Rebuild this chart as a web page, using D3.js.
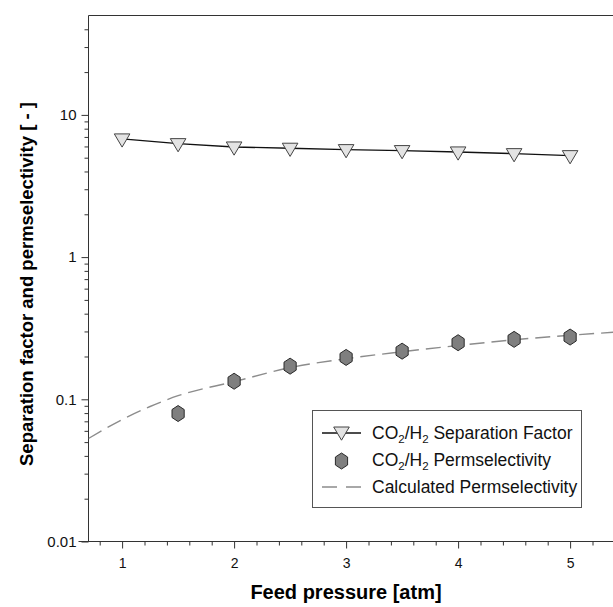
<!DOCTYPE html>
<html>
<head>
<meta charset="utf-8">
<script src="https://cdnjs.cloudflare.com/ajax/libs/d3/7.8.5/d3.min.js"></script>
<style>
  body { margin: 0; background: #fff; }
  svg { font-family: Arial, "Liberation Sans", sans-serif; display: block; }
</style>
</head>
<body>
<script>
// feed pressure [atm]
const pressure = [1, 1.5, 2, 2.5, 3, 3.5, 4, 4.5, 5];
const sepFactor = [6.78, 6.28, 5.95, 5.83, 5.70, 5.61, 5.49, 5.34, 5.17];

const permPressure = [1.5, 2, 2.5, 3, 3.5, 4, 4.5, 5];
const permSel = [0.0794, 0.134, 0.171, 0.197, 0.218, 0.250, 0.264, 0.274];

// calculated permselectivity curve
const calcPressure = [0.7, 1.0, 1.25, 1.5, 2.0, 2.5, 3.0, 3.5, 4.0, 4.5, 5.0, 5.5];
const calcPerm = [0.053, 0.072, 0.089, 0.106, 0.133, 0.167, 0.193, 0.216, 0.239, 0.262, 0.282, 0.300];

const xTicks = [1, 2, 3, 4, 5];
const yTicks = [0.01, 0.1, 1, 10];

const W = 613, H = 607;
const svg = d3.select("body").append("svg")
    .attr("width", W)
    .attr("height", H);

const plotLeft = 88.5, plotBottom = 541.5, plotTop = 15.5;
const font = "Arial, 'Liberation Sans', sans-serif";

var x = d3.scaleLinear().domain([0.7, 5.5]).range([plotLeft, plotLeft + 4.8 * 112]);
var y = d3.scaleLog().domain([0.01, 50]).range([plotBottom, plotTop]);

// minor ticks
var yMinor = [];
[0.01, 0.1, 1, 10].forEach(function (d) {
    for (var k = 2; k <= 9; k++) {
        var v = d * k;
        if (v < 50) yMinor.push(v);
    }
});
var xMinor = d3.range(8, 55, 2).map(function (d) { return d / 10; })
    .filter(function (d) { return xTicks.indexOf(d) < 0; });

const axisColor = "#333";

// frame: left and top lines
svg.append("line")
    .attr("x1", plotLeft).attr("x2", plotLeft)
    .attr("y1", plotTop).attr("y2", plotBottom)
    .attr("stroke", axisColor);
svg.append("line")
    .attr("x1", plotLeft).attr("x2", W)
    .attr("y1", plotTop).attr("y2", plotTop)
    .attr("stroke", axisColor);

// x axis
var xAxis = svg.append("g")
    .attr("transform", "translate(0," + plotBottom + ")")
    .call(d3.axisBottom(x).tickValues(xTicks).tickSize(7).tickPadding(10)
        .tickFormat(d3.format("d")))
    .attr("font-family", font);
xAxis.select(".domain").attr("stroke", axisColor).attr("d", "M" + (plotLeft - 10) + ",0H" + W);
xAxis.selectAll(".tick line").attr("stroke", axisColor);
xAxis.selectAll(".tick text").attr("font-size", 14).attr("fill", "#111");

svg.append("g")
    .attr("transform", "translate(0," + plotBottom + ")")
    .call(d3.axisBottom(x).tickValues(xMinor).tickSize(4).tickFormat(""))
    .call(function (g) { g.select(".domain").remove(); })
    .selectAll("line").attr("stroke", axisColor);

// y axis
var yAxis = svg.append("g")
    .attr("transform", "translate(" + plotLeft + ",0)")
    .call(d3.axisLeft(y).tickValues(yTicks).tickSize(7).tickPadding(5)
        .tickFormat(function (d) { return d >= 1 ? d3.format("d")(d) : String(d); }))
    .attr("font-family", font);
yAxis.select(".domain").remove();
yAxis.selectAll(".tick line").attr("stroke", axisColor);
yAxis.selectAll(".tick text").attr("font-size", 15).attr("fill", "#111");

svg.append("g")
    .attr("transform", "translate(" + plotLeft + ",0)")
    .call(d3.axisLeft(y).tickValues(yMinor).tickSize(4).tickFormat(""))
    .call(function (g) { g.select(".domain").remove(); })
    .selectAll("line").attr("stroke", axisColor);

// axis titles
svg.append("text")
    .attr("x", 346)
    .attr("y", 599)
    .attr("text-anchor", "middle")
    .attr("font-size", 20)
    .attr("font-weight", "bold")
    .text("Feed pressure [atm]");

svg.append("text")
    .attr("transform", "translate(33,284) rotate(-90)")
    .attr("text-anchor", "middle")
    .attr("font-size", 18.5)
    .attr("font-weight", "bold")
    .text("Separation factor and permselectivity [ - ]");

// plot area clip
svg.append("clipPath").attr("id", "plot")
    .append("rect").attr("x", plotLeft).attr("y", plotTop).attr("width", W - plotLeft).attr("height", plotBottom - plotTop);

var plot = svg.append("g").attr("clip-path", "url(#plot)");

// calculated permselectivity
var calcLine = d3.line()
    .x(function (d, i) { return x(calcPressure[i]); })
    .y(function (d) { return y(d); })
    .curve(d3.curveMonotoneX);

plot.append("path")
    .datum(calcPerm)
    .attr("d", calcLine)
    .attr("fill", "none")
    .attr("stroke", "#8c8c8c")
    .attr("stroke-width", 1.4)
    .attr("stroke-dasharray", "15,7");

// separation factor line
var sepLine = d3.line()
    .x(function (d, i) { return x(pressure[i]); })
    .y(function (d) { return y(d); });

plot.append("path")
    .datum(sepFactor)
    .attr("d", sepLine)
    .attr("fill", "none")
    .attr("stroke", "#111")
    .attr("stroke-width", 1.4);

function triPath(cx, cy) {
    var w = 7.8, h1 = 5, h2 = 8.2;
    return "M" + (cx - w) + "," + (cy - h1) + "L" + (cx + w) + "," + (cy - h1) + "L" + cx + "," + (cy + h2) + "Z";
}
function hexPath(cx, cy) {
    var r = 8, pts = [];
    for (var k = 0; k < 6; k++) {
        var a = Math.PI / 2 + k * Math.PI / 3;
        pts.push([cx + r * 0.88 * Math.cos(a), cy + r * Math.sin(a)]);
    }
    return "M" + pts.map(function (p) { return p.join(","); }).join("L") + "Z";
}

plot.selectAll(".tri")
    .data(sepFactor)
    .enter()
    .append("path")
    .attr("class", "tri")
    .attr("d", function (d, i) { return triPath(x(pressure[i]), y(d)); })
    .attr("fill", "#e3e3e3")
    .attr("stroke", "#444")
    .attr("stroke-width", 1);

plot.selectAll(".hex")
    .data(permSel)
    .enter()
    .append("path")
    .attr("class", "hex")
    .attr("d", function (d, i) { return hexPath(x(permPressure[i]), y(d)); })
    .attr("fill", "#7f7f7f")
    .attr("stroke", "#2a2a2a")
    .attr("stroke-width", 1);

// legend
var lg = svg.append("g");
lg.append("rect")
    .attr("x", 312.5).attr("y", 410.5)
    .attr("width", 269).attr("height", 97)
    .attr("fill", "#fff")
    .attr("stroke", "#555");

var rowY = [433, 460, 487];
var textX = 372;

lg.append("line")
    .attr("x1", 322).attr("x2", 361).attr("y1", rowY[0]).attr("y2", rowY[0])
    .attr("stroke", "#111").attr("stroke-width", 1.4);
lg.append("path").attr("d", triPath(341.5, rowY[0] - 1))
    .attr("fill", "#e3e3e3").attr("stroke", "#444");
lg.append("path").attr("d", hexPath(341.5, rowY[1] + 1))
    .attr("fill", "#7f7f7f").attr("stroke", "#2a2a2a");
lg.append("line")
    .attr("x1", 322).attr("x2", 361).attr("y1", rowY[2]).attr("y2", rowY[2])
    .attr("stroke", "#8c8c8c").attr("stroke-width", 1.4)
    .attr("stroke-dasharray", "15,9");

function coh2(t, label) {
    t.append("tspan").text("CO");
    t.append("tspan").attr("font-size", 11.5).attr("dy", 4).text("2");
    t.append("tspan").attr("dy", -4).text("/H");
    t.append("tspan").attr("font-size", 11.5).attr("dy", 4).text("2");
    t.append("tspan").attr("dy", -4).text(" " + label);
}

var labels = ["Separation Factor", "Permselectivity"];
labels.forEach(function (l, i) {
    var t = lg.append("text")
        .attr("x", textX).attr("y", rowY[i] + 6)
        .attr("font-size", 17.5).attr("fill", "#111");
    coh2(t, l);
});
lg.append("text")
    .attr("x", textX).attr("y", rowY[2] + 6)
    .attr("font-size", 17.5).attr("fill", "#111")
    .text("Calculated Permselectivity");
</script>
</body>
</html>
